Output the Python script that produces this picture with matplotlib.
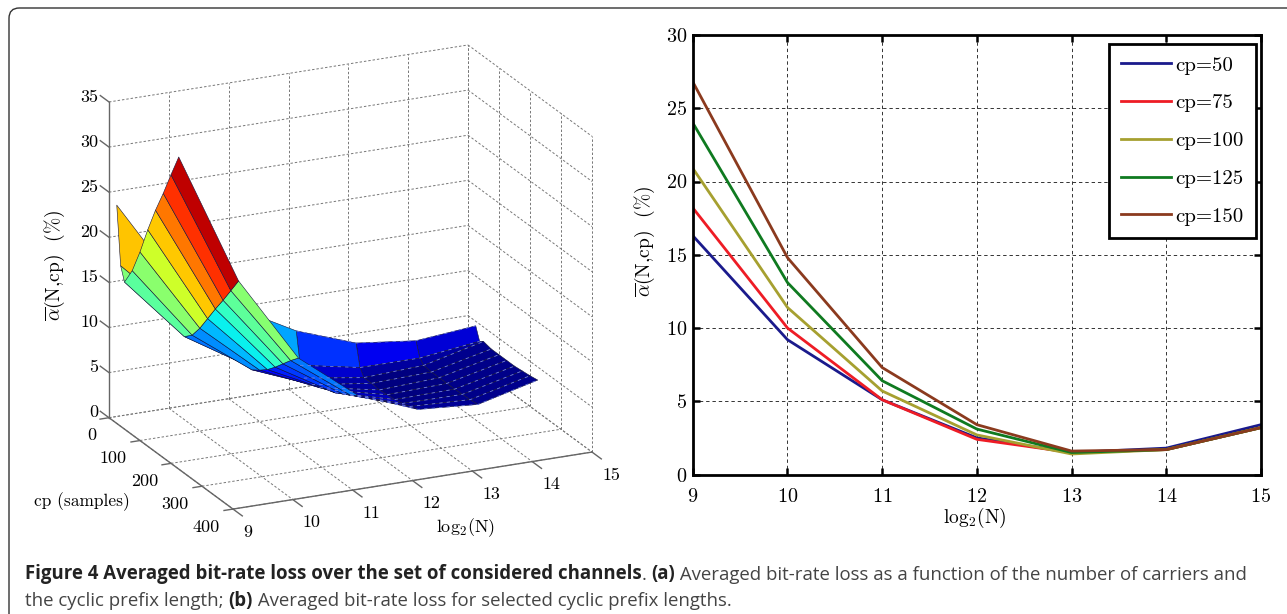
import numpy as np
import matplotlib
matplotlib.use("Agg")
import matplotlib.pyplot as plt
from matplotlib.patches import FancyBboxPatch
from mpl_toolkits.mplot3d import proj3d

W, H = 1287, 614

# figure (a), surface
log2n = [9, 10, 11, 12, 13, 14, 15]
cp_rows = [25, 37.5, 50, 75, 100, 125, 150, 175, 200, 225]
loss_25 = [24.2, 14.5, 10.7, 7.1, 4.7, 3.9, 4.5]
loss_37 = [17.8, 11.3, 6.8, 3.6, 2.3, 2.3, 3.1]
loss_50 = [16.3, 9.2, 5.1, 2.5, 1.5, 1.8, 3.4]
loss_75 = [18.2, 10.0, 5.1, 2.4, 1.5, 1.7, 3.2]
loss_100 = [20.9, 11.4, 5.7, 2.7, 1.4, 1.7, 3.2]
loss_125 = [24.0, 13.1, 6.4, 3.1, 1.5, 1.7, 3.2]
loss_150 = [26.8, 14.8, 7.3, 3.4, 1.6, 1.7, 3.2]
loss_175 = [29.3, 16.4, 8.3, 3.9, 1.8, 1.75, 3.3]
loss_200 = [32.0, 18.1, 9.3, 4.4, 2.1, 1.8, 3.4]
loss_225 = [34.6, 19.8, 10.2, 5.0, 2.4, 1.9, 3.55]
surface_rows = [loss_25, loss_37, loss_50, loss_75, loss_100, loss_125, loss_150, loss_175, loss_200, loss_225]

x_ticks = [9, 10, 11, 12, 13, 14, 15]
cp_ticks = [0, 100, 200, 300, 400]
z_ticks = [0, 5, 10, 15, 20, 25, 30, 35]
line_ticks = [0, 5, 10, 15, 20, 25, 30]

# figure (b), selected prefix lengths
line_labels = ["cp=50", "cp=75", "cp=100", "cp=125", "cp=150"]
line_colors = ["#1a1a8c", "#ee1c25", "#a6a030", "#0f7a20", "#8b3a1e"]
line_values = [loss_50, loss_75, loss_100, loss_125, loss_150]

plt.rcParams["font.family"] = ["cmr10", "DejaVu Serif"]
plt.rcParams["mathtext.fontset"] = "cm"
plt.rcParams["axes.formatter.use_mathtext"] = True

fig = plt.figure(figsize=(W / 100, H / 100), dpi=100)


def put(x, y, s, **kw):
    fig.text(x / W, 1 - y / H, s, ha=kw.pop("ha", "center"), va=kw.pop("va", "center"), **kw)


# outer frame, only the top and left sides fall inside the picture
fig.add_artist(FancyBboxPatch((9 / W, 1 - 660 / H), 1400 / W, 652 / H, boxstyle="round,pad=0,rounding_size=0.008",
                              transform=fig.transFigure, fc="none", ec="#333333", lw=1.0, mutation_aspect=W / H))

# left panel
ax = fig.add_axes([0.0, 0.0, 0.5, 0.5 * W / H], projection="3d", computed_zorder=False)
ax.set_proj_type("ortho")
ax.set_xlim(9, 15)
ax.set_ylim(400, 0)
ax.set_zlim(0, 35)
ax.view_init(elev=20, azim=245.1)
ax.set_box_aspect((395.8, 294.5, 336.0))
ax.set_axis_off()


def to_px(x, y, z):
    px, py, _ = proj3d.proj_transform(x, y, z, ax.get_proj())
    return ax.transData.transform((px, py))


# fit the box to the corners of the original panel
for i in range(3):
    fig.canvas.draw()
    a = to_px(9, 0, 0)
    b = to_px(15, 400, 0)
    span = b[0] - a[0]
    k = (592 - 109) / span
    pos = ax.get_position(original=True)
    side = pos.width * W * k
    a = to_px(9, 0, 0)
    x0 = pos.x0 * W
    y0 = pos.y0 * H
    new_x0 = 109 - (a[0] - x0) * k
    new_y0 = (H - 417.7) - (a[1] - y0) * k
    ax.set_position([new_x0 / W, new_y0 / H, side / W, side / H])
fig.canvas.draw()

grid = dict(color="#777777", lw=0.7, ls=(0, (2.5, 2)), zorder=1)
for t in x_ticks:
    ax.plot([t, t], [0, 0], [0, 35], **grid)
    ax.plot([t, t], [0, 400], [0, 0], **grid)
for t in cp_ticks:
    ax.plot([15, 15], [t, t], [0, 35], **grid)
    ax.plot([9, 15], [t, t], [0, 0], **grid)
for t in z_ticks:
    ax.plot([9, 15], [0, 0], [t, t], **grid)
    ax.plot([15, 15], [0, 400], [t, t], **grid)

axis_line = dict(color="#666666", lw=1.0, zorder=1.5)
ax.plot([9, 9], [0, 0], [0, 35], **axis_line)
ax.plot([9, 9], [0, 400], [0, 0], **axis_line)
ax.plot([9, 15], [400, 400], [0, 0], **axis_line)
for t in z_ticks:
    ax.plot([9, 9], [0, -28], [t, t], **axis_line)
for t in cp_ticks:
    ax.plot([9, 8.85], [t, t], [0, 0], **axis_line)
for t in x_ticks:
    ax.plot([t, t], [400, 430], [0, 0], **axis_line)

X, Y = np.meshgrid(log2n, cp_rows)
Z = np.array(surface_rows)
face = plt.cm.jet(np.clip((Z - Z.min()) / 32.5, 0, 1))
ax.plot_surface(X, Y, Z, facecolors=face, rstride=1, cstride=1, shade=False, edgecolor="#14143c", linewidth=0.4, zorder=2)

# pale dashes along the rows in the flat dark part of the surface
for c, row in zip(cp_rows, surface_rows):
    ax.plot(log2n[3:], [c] * 4, row[3:], color="#6f7fe8", lw=0.6, ls=(0, (4, 5)), zorder=3)


def tick_label(x, y, z, s, dx, dy, ha="center"):
    p = to_px(x, y, z)
    put(p[0] + dx, H - p[1] + dy, s, ha=ha, fontsize=13)


for t in z_ticks:
    tick_label(9, 0, t, str(t), -11, -5, ha="right")
for t in cp_ticks:
    tick_label(9, t, 0, str(t), -13, 18, ha="right")
for t in x_ticks:
    tick_label(t, 400, 0, str(t), 19 if t > 9 else 15, 23)

put(81.6, 501.7, "cp (samples)", fontsize=12.5)
put(466, 527.5, r"log$_2$(N)", fontsize=13)
put(55, 265, r"$\overline{\alpha}$(N,cp)  (%)", fontsize=14, rotation=90)

# right panel
ax2 = fig.add_axes([692.8 / W, 1 - 474.5 / H, (1261 - 692.8) / W, (474.5 - 35) / H])
for vals, col, lab in zip(line_values, line_colors, line_labels):
    ax2.plot(log2n, vals, color=col, lw=2.0, label=lab)
ax2.set_xlim(9, 15)
ax2.set_ylim(0, 30)
ax2.set_xticks(x_ticks)
ax2.set_yticks(line_ticks)
ax2.grid(True, color="#333333", lw=0.7, ls=(0, (3.5, 3)))
ax2.set_axisbelow(True)
ax2.tick_params(direction="in", length=5, width=1.8, top=True, right=True, labelsize=14.5)
ax2.tick_params(axis="x", pad=10)
ax2.tick_params(axis="y", pad=4)
for s in ax2.spines.values():
    s.set_linewidth(2.0)
leg = ax2.legend(loc="upper right", bbox_to_anchor=(1255.8 / W, 1 - 44 / H), bbox_transform=fig.transFigure,
                 fontsize=15, fancybox=False, framealpha=1, edgecolor="black", borderaxespad=0,
                 handlelength=2.4, handletextpad=0.2, labelspacing=0.92, borderpad=0.58)
leg.get_frame().set_linewidth(2.0)
put(975, 518, r"log$_2$(N)", fontsize=14)
put(645, 241, r"$\overline{\alpha}$(N,cp)  (%)", fontsize=14, rotation=90)

# caption, pieces laid out one after the other
cap1 = [("Figure 4 Averaged bit-rate loss over the set of considered channels", "bold"), (". ", "normal"), ("(a)", "bold"),
        (" Averaged bit-rate loss as a function of the number of carriers and", "normal")]
cap2 = [("the cyclic prefix length; ", "normal"), ("(b)", "bold"), (" Averaged bit-rate loss for selected cyclic prefix lengths.", "normal")]
rend = fig.canvas.get_renderer()


def caption_line(parts, y, size):
    x = 25
    made = []
    for s, w in parts:
        t = fig.text(x / W, 1 - y / H, s.replace(" ", "\u00a0"), fontweight=w, family="Open Sans", fontsize=size, va="center",
                     color="#222222" if w == "bold" else "#444444")
        x = t.get_window_extent(rend).x1
        made.append(t)
    return x, made


# size the caption so the first line ends where the original does
size = 13.0
for i in range(3):
    end, made = caption_line(cap1, 574.5, size)
    for t in made:
        t.remove()
    size = size * (1249 - 25) / (end - 25)
caption_line(cap1, 574.5, size)
caption_line(cap2, 601, size)

fig.savefig("out.png", dpi=100)
